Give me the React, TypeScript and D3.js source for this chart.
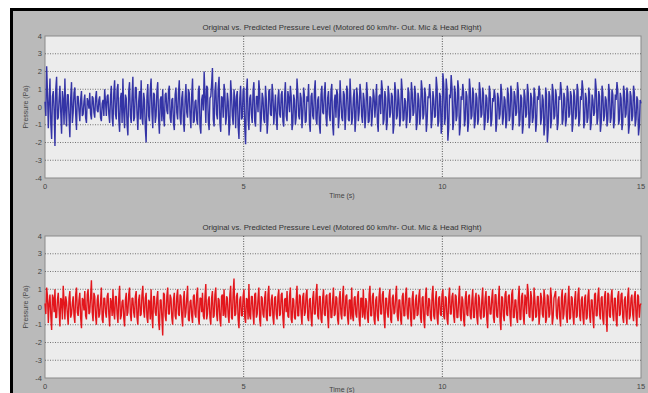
import { useEffect, useRef } from 'react';
import * as d3 from 'd3';

const TITLE = 'Original vs. Predicted Pressure Level (Motored 60 km/hr- Out. Mic & Head Right)';
const Y_TICKS = [4, 3, 2, 1, 0, -1, -2, -3, -4];
const X_TICKS = [0, 5, 10, 15];
const GRID_Y = [3, 2, 1, -1, -2, -3];
const GRID_X = [5, 10];
const DURATION = 15;

// original signal (top, blue) - even samples
const originalPaEven = [
  0.3, 2.3, -1.2, 1.6, -1.8, 0.9, -2.2, 1.7, -0.6, 1.2, -1.5, 0.4, 1.6, -1.1, 0.7, -1.7, 1.4, -0.3, 1.1, -1.3,
  0.6, -0.8, 0.9, -0.4, 0.7, -0.9, 0.3, 0.8, -0.7, 0.5, -0.6, 0.9, -0.3, 0.6, -0.8, 0.4, 1.0, -0.5, 0.7, -0.9,
  1.2, -1.1, 1.5, -0.7, 1.3, -1.4, 0.8, 1.6, -1.2, 0.5, -1.6, 1.4, -0.9, 1.7, -0.6, 1.1, -1.3, 0.9, 1.5, -1.0,
  0.4, -2.0, 1.3, -0.8, 1.6, -1.2, 0.7, -0.5, 1.4, -1.5, 0.6, 1.0, -1.1, 0.8, -0.4, 1.2, -0.9, 0.5, -1.3, 1.1,
  -0.7, 1.5, -1.0, 0.9, -1.4, 1.3, -0.6, 0.8, -1.2, 1.6, -0.8, 0.4, -1.0, 1.2, -1.5, 0.7, 2.0, -0.9, 1.1, -1.3,
  0.6, 2.2, -1.1, 1.4, -0.7, 1.7, -1.4, 0.5, 1.3, -1.0, 0.8, -1.6, 1.5, -0.5, 1.0, -1.2, 0.9, -1.8, 1.2, -0.6,
  1.1, -2.1, 1.6, -1.3, 0.7, -0.9, 1.4, -1.1, 0.6, 1.5, -1.4, 0.8, -0.7, 1.2, -1.5, 0.9, -0.4, 1.3, -1.0, 0.7,
  -1.3, 1.0, -0.6, 0.9, -1.1, 1.4, -0.8, 0.5, 1.2, -1.3, 0.7, -1.0, 1.6, -0.5, 0.8, -1.2, 1.1, -0.9, 0.6, 1.3,
  -1.4, 0.8, -0.7, 1.5, -1.0, 0.6, -1.5, 1.2, -0.4, 1.4, -1.1, 0.9, -0.8, 1.3, -1.6, 0.7, 1.0, -1.2, 1.5, -0.6,
  0.9, -1.3, 1.2, -0.7, 1.6, -1.0, 0.5, -1.4, 1.1, -0.8, 1.3, -0.5, 0.8, -1.2, 1.4, -0.9, 0.6, -1.1, 1.0, -0.6,
  1.3, -1.4, 0.7, 1.5, -1.0, 0.9, -1.3, 1.2, -0.6, 0.8, -1.5, 1.4, -0.7, 1.0, -1.1, 1.6, -0.8, 0.5, -1.2, 1.1,
  -0.9, 1.4, -0.5, 1.2, -1.3, 0.8, -1.0, 1.5, -0.7, 1.1, -1.4, 0.6, 1.3, -1.2, 0.9, -0.6, 1.7, -1.1, 0.8, -1.5,
  1.9, -1.0, 1.6, -1.9, 0.7, 1.8, -1.3, 1.2, -0.8, 1.5, -1.6, 0.6, 1.3, -1.1, 0.9, -1.4, 1.6, -0.7, 1.1, -1.2,
  0.8, -1.0, 1.4, -0.6, 1.1, -1.3, 0.7, -0.9, 1.2, -1.1, 0.5, 1.0, -1.4, 0.8, -0.7, 1.3, -1.0, 0.6, -1.2, 1.1,
  -0.8, 1.2, -1.3, 0.9, -0.5, 1.4, -1.1, 0.7, -1.5, 1.0, -0.6, 1.3, -1.2, 0.8, -0.9, 1.1, -1.4, 0.6, 1.2, -1.0,
  0.7, -1.6, 1.1, -2.0, 0.9, -1.2, 1.3, -0.7, 1.0, -1.3, 0.6, 1.4, -1.0, 0.8, -1.1, 1.2, -0.6, 0.9, -1.4, 1.0,
  -0.7, 1.3, -1.1, 0.6, 1.5, -1.2, 0.8, -0.9, 1.1, -1.3, 0.7, -0.5, 1.6, -1.0, 0.9, -1.4, 1.2, -0.8, 0.6, -1.1,
  1.3, -0.9, 1.0, -1.2, 0.7, 1.4, -1.0, 0.8, -1.3, 1.2, -0.6, 1.1, -1.5, 0.9, -0.8, 1.2, -1.1, 0.6, -1.6, 0.4,
];

// original signal (top, blue) - odd samples
const originalPaOdd = [
  -0.5, 0.8, 0.3, -0.9, 0.6, -0.2, 1.0, -0.7, 0.4, -0.3, 0.9, -1.0, -0.2, 0.7, -0.6, 0.5, -0.9, 0.8, -0.4, 0.6,
  -0.2, 0.4, -0.5, 0.3, -0.6, 0.5, -0.1, -0.4, 0.6, -0.3, 0.5, -0.2, 0.4, -0.6, 0.2, -0.5, 0.3, 0.6, -0.4, 0.5,
  -0.6, 0.8, -0.4, 1.0, -0.7, 0.5, -0.9, -0.3, 0.7, -1.0, 0.9, -0.5, 0.6, -0.8, 1.1, -0.4, 0.3, -0.7, -0.6, 0.8,
  -1.2, 0.6, -0.5, 1.0, -0.3, 0.8, -0.9, 0.9, -0.6, 0.4, -0.8, -0.5, 0.7, -0.2, 0.9, -0.6, 0.4, -0.9, 0.7, -0.3,
  0.8, -0.6, 0.5, -0.8, 0.4, -0.3, 1.0, -0.5, 0.7, -0.9, 0.3, -0.7, 0.9, -1.1, 0.4, -0.2, 0.6, 1.2, -0.8, 0.5,
  1.3, -0.7, 0.9, -0.4, 1.1, -0.9, 0.6, -0.6, 0.8, -0.5, 0.3, -0.9, 0.7, -1.0, 0.4, 0.6, -1.1, 0.5, -0.7, 0.9,
  -1.2, 0.8, -0.7, 0.5, -0.4, 0.9, -0.8, 0.6, -0.3, 0.8, -0.6, 0.5, -0.9, 0.4, -0.7, 1.0, -0.5, 0.7, -0.2, -0.6,
  0.5, -0.4, 0.7, -0.8, 0.6, -0.5, 0.9, -0.3, 0.6, -0.9, 0.4, -0.6, 0.8, -0.7, 0.5, -0.4, 0.6, -0.8, 0.3, -0.9,
  0.6, -0.5, 0.9, -0.7, 0.4, -1.0, 0.7, -0.3, 0.8, -0.6, 0.5, -0.4, 0.9, -1.0, 0.3, -0.6, 0.7, -0.5, 0.4, -0.8,
  0.7, -0.4, 0.9, -0.8, 0.5, -0.6, 1.0, -0.7, 0.6, -0.3, 0.8, -0.9, 0.4, -0.5, 0.7, -0.8, 0.5, -0.4, 0.6, 0.3,
  -0.9, 0.6, -0.4, 1.0, -0.7, 0.5, -0.8, 0.7, -0.3, 0.6, -1.0, 0.9, -0.5, 0.4, -0.6, 0.9, -0.7, 0.3, -0.5, 0.8,
  -0.6, 0.8, -0.3, 0.7, -0.9, 0.4, -0.5, 1.0, -0.4, 0.7, -0.8, 0.5, 0.6, -0.7, 0.4, -0.5, 1.1, -0.8, 0.6, -1.0,
  1.3, -0.6, 1.0, -1.2, 0.5, 1.1, -0.9, 0.8, -0.5, 1.0, -1.1, 0.4, 0.8, -0.7, 0.6, -0.9, 1.0, -0.5, 0.7, -0.8,
  0.5, -0.7, 0.9, -0.4, 0.7, -0.8, 0.5, -0.6, 0.8, -0.7, 0.3, 0.6, -0.9, 0.5, -0.4, 0.8, -0.6, 0.4, -0.8, 0.7,
  -0.5, 0.8, -0.9, 0.6, -0.3, 0.9, -0.7, 0.5, -1.0, 0.6, -0.4, 0.8, -0.8, 0.5, -0.6, 0.7, -0.9, 0.4, 0.8, -0.6,
  0.4, -1.0, 0.7, -1.3, 0.6, -0.8, 0.9, -0.5, 0.6, -0.9, 0.4, 0.9, -0.7, 0.5, -0.7, 0.8, -0.4, 0.6, -0.9, 0.6,
  -0.5, 0.9, -0.7, 0.4, 1.0, -0.8, 0.5, -0.6, 0.7, -0.9, 0.4, -0.3, 1.0, -0.6, 0.6, -0.9, 0.8, -0.5, 0.4, -0.7,
  0.8, -0.6, 0.7, -0.8, 0.4, 0.9, -0.7, 0.5, -0.9, 0.8, -0.4, 0.7, -1.0, 0.6, -0.5, 0.8, -0.7, 0.4, -1.1, 0.2,
];

// predicted signal (bottom, red) - even samples
const predictedPaEven = [
  0.2, 1.1, -0.9, 0.7, -1.3, 0.5, 1.0, -0.6, 0.8, -1.1, 0.4, 1.2, -0.7, 0.3, -1.0, 0.9, -0.4, 0.6, -0.9, 1.1,
  -0.5, 0.8, -1.2, 0.4, 0.9, -0.7, 1.0, -0.3, 1.5, -0.8, 0.6, -1.0, 0.7, -0.4, 1.1, -0.9, 0.5, -0.6, 0.8, -1.1,
  0.3, 1.0, -0.7, 0.6, -0.9, 1.2, -0.5, 0.4, -1.1, 0.8, -0.3, 1.1, -0.8, 0.5, -0.6, 0.9, -1.0, 0.7, -0.4, 1.2,
  -0.6, 0.8, -0.9, 0.3, 1.0, -1.2, 0.6, -0.5, 0.9, -1.3, 0.4, -1.6, 0.7, -0.8, 1.1, -0.4, 0.5, -1.0, 0.8, -0.7,
  1.0, -0.5, 0.6, -1.1, 0.9, -0.3, 1.2, -0.8, 0.4, -0.9, 0.7, -0.6, 1.1, -1.0, 0.5, 0.8, -0.7, 1.3, -0.4, 0.6,
  -1.0, 0.9, -0.5, 1.1, -0.8, 0.4, -1.1, 0.7, 1.0, -0.6, 0.5, -0.9, 1.2, -0.7, 1.6, -0.4, 0.8, -1.2, 0.6, -0.5,
  1.0, -0.9, 0.4, 1.3, -0.7, 0.6, -1.0, 0.8, -0.4, 1.1, -1.1, 0.5, -0.6, 0.9, -0.8, 1.2, -0.5, 0.7, -1.0, 0.6,
  -0.7, 1.0, -0.4, 0.8, -1.2, 0.5, 0.9, -0.6, 1.1, -0.9, 0.4, -0.7, 1.2, -0.5, 0.6, -1.0, 0.8, -0.3, 1.0, -0.8,
  0.5, -1.1, 0.9, -0.4, 1.3, -0.7, 0.6, -0.9, 1.0, -0.5, 0.7, -1.2, 0.8, -0.6, 1.1, -0.4, 0.5, -1.0, 0.9, -0.7,
  1.2, -0.5, 0.7, -1.0, 0.4, 1.1, -0.8, 0.6, -0.6, 0.9, -1.1, 0.5, 1.0, -0.7, 0.3, -0.9, 1.2, -0.5, 0.8, -1.0,
  0.6, -0.8, 1.1, -0.4, 0.9, -1.2, 0.5, -0.6, 1.0, -0.9, 0.7, -0.3, 1.2, -0.8, 0.4, -1.0, 0.8, -0.5, 1.1, -0.7,
  0.5, -1.1, 0.9, -0.6, 0.7, -0.4, 1.0, -0.9, 0.6, -1.2, 1.1, -0.5, 0.4, -0.8, 1.2, -0.7, 0.9, -1.0, 0.6, -0.5,
  1.0, -0.7, 0.5, -1.0, 1.1, -0.4, 0.8, -0.9, 0.6, -0.6, 1.2, -0.8, 0.4, -1.1, 0.9, -0.5, 0.7, -0.7, 1.0, -0.6,
  0.8, -1.0, 0.5, -0.7, 1.1, -0.5, 0.9, -1.2, 0.6, -0.4, 1.0, -0.9, 0.7, -0.6, 1.2, -1.3, 0.5, -0.8, 0.9, -0.5,
  0.7, -1.1, 1.0, -0.6, 0.4, -0.9, 1.2, -0.7, 0.8, -1.0, 0.5, 1.3, -0.5, 0.9, -0.8, 1.1, -0.6, 0.6, -1.0, 0.8,
  -0.4, 1.0, -0.9, 0.7, -0.6, 1.1, -1.0, 0.5, 0.9, -0.7, 0.6, -1.1, 1.0, -0.4, 0.8, -0.9, 1.2, -0.6, 0.5, -1.0,
  0.9, -0.5, 1.1, -0.8, 0.6, -1.0, 0.7, -0.6, 1.0, -0.9, 0.4, -1.2, 0.8, -0.5, 1.1, -0.7, 0.6, -1.0, 0.9, -1.4,
  0.7, -0.6, 1.0, -0.8, 0.5, -1.1, 0.9, -0.4, 0.8, -0.9, 0.6, -1.0, 1.1, -0.5, 0.7, -0.8, 0.9, -1.1, 0.6, 0.1,
];

// predicted signal (bottom, red) - odd samples
const predictedPaOdd = [
  -0.4, 0.6, 0.2, -0.5, 0.7, -0.3, -0.6, 0.4, -0.2, 0.5, -0.7, 0.3, 0.6, -0.4, 0.5, -0.6, 0.2, -0.5, 0.7, -0.3,
  0.4, -0.6, 0.5, -0.2, -0.5, 0.7, -0.4, 0.6, -0.3, 0.8, -0.5, 0.4, -0.6, 0.3, -0.7, 0.5, -0.3, 0.6, -0.4, 0.5,
  -0.5, -0.3, 0.6, -0.4, 0.5, -0.7, 0.3, -0.6, 0.4, -0.5, 0.7, -0.4, 0.5, -0.3, 0.6, -0.6, 0.4, -0.5, 0.7, -0.2,
  0.5, -0.6, 0.4, -0.7, -0.5, 0.6, -0.3, 0.5, -0.8, 0.4, -0.6, 0.8, -0.5, 0.6, -0.4, 0.7, -0.6, 0.4, -0.5, 0.6,
  -0.4, 0.7, -0.5, 0.4, -0.6, 0.5, -0.7, 0.3, -0.5, 0.6, -0.4, 0.7, -0.6, 0.5, -0.3, -0.5, 0.6, -0.7, 0.4, -0.6,
  0.5, -0.6, 0.7, -0.4, 0.5, -0.7, 0.6, -0.5, -0.4, 0.6, -0.5, 0.7, -0.6, 0.8, -0.5, 0.6, -0.7, 0.4, -0.5, 0.6,
  -0.6, 0.5, -0.7, -0.5, 0.6, -0.4, 0.7, -0.6, 0.5, -0.7, 0.6, -0.4, 0.5, -0.6, 0.7, -0.5, 0.4, -0.6, 0.5, -0.4,
  0.6, -0.5, 0.7, -0.6, 0.4, -0.3, -0.5, 0.6, -0.7, 0.5, -0.6, 0.4, -0.5, 0.7, -0.4, 0.6, -0.5, 0.7, -0.6, 0.4,
  -0.6, 0.5, -0.4, 0.7, -0.5, 0.6, -0.7, 0.5, -0.4, 0.6, -0.5, 0.7, -0.6, 0.4, -0.5, 0.6, -0.7, 0.5, -0.4, 0.6,
  -0.5, 0.6, -0.6, 0.4, -0.7, -0.5, 0.5, -0.4, 0.6, -0.7, 0.5, -0.6, -0.4, 0.5, -0.6, 0.7, -0.5, 0.6, -0.7, 0.4,
  -0.5, 0.6, -0.4, 0.7, -0.6, 0.5, -0.3, 0.6, -0.7, 0.5, -0.4, 0.6, -0.5, 0.4, -0.7, 0.6, -0.5, 0.7, -0.4, 0.5,
  -0.6, 0.5, -0.7, 0.4, -0.5, 0.6, -0.6, 0.5, -0.7, 0.6, -0.4, 0.5, -0.6, 0.7, -0.5, 0.4, -0.6, 0.5, -0.4, 0.7,
  -0.5, 0.6, -0.7, 0.5, -0.4, 0.6, -0.5, 0.7, -0.6, 0.4, -0.5, 0.6, -0.7, 0.5, -0.4, 0.6, -0.5, 0.4, -0.6, 0.5,
  -0.6, 0.7, -0.5, 0.4, -0.6, 0.5, -0.7, 0.6, -0.4, 0.5, -0.6, 0.7, -0.5, 0.4, -0.8, 0.6, -0.5, 0.7, -0.4, 0.6,
  -0.5, 0.7, -0.6, 0.4, -0.6, 0.5, -0.7, 0.6, -0.5, 0.7, -0.4, 0.8, -0.6, 0.5, -0.7, 0.4, -0.5, 0.6, -0.4, 0.5,
  -0.6, 0.5, -0.7, 0.6, -0.4, 0.5, -0.6, 0.7, -0.5, 0.4, -0.6, 0.5, -0.7, 0.6, -0.5, 0.4, -0.7, 0.6, -0.5, 0.4,
  -0.6, 0.7, -0.5, 0.4, -0.6, 0.5, -0.7, 0.6, -0.5, 0.4, -0.6, 0.7, -0.5, 0.6, -0.4, 0.5, -0.7, 0.6, -0.5, 0.8,
  -0.5, 0.6, -0.4, 0.5, -0.7, 0.6, -0.5, 0.7, -0.6, 0.4, -0.5, 0.6, -0.7, 0.5, -0.4, 0.6, -0.5, 0.7, -0.6, 0.2,
];

const originalPa = d3.merge(d3.zip(originalPaEven, originalPaOdd));
const predictedPa = d3.merge(d3.zip(predictedPaEven, predictedPaOdd));

const W = 648;
const H = 393;
const FONT = '"Liberation Sans", Arial, sans-serif';

interface PanelProps {
  values: number[];
  top: number;
  color: string;
  width: number;
}

function Panel({ values, top, color, width }: PanelProps) {
  const gRef = useRef<SVGGElement>(null);
  const left = 45;
  const right = 641;
  const plotH = 142;

  useEffect(() => {
    if (!gRef.current) return;
    const g = d3.select(gRef.current);
    g.selectAll('*').remove();

    const x = d3.scaleLinear().domain([0, DURATION]).range([left, right]);
    const y = d3.scaleLinear().domain([-4, 4]).range([top + plotH, top]);

    // title
    g.append('text')
      .attr('x', 342)
      .attr('y', top - 6)
      .attr('text-anchor', 'middle')
      .attr('font-family', FONT)
      .attr('font-size', '7.8px')
      .attr('fill', '#333')
      .text(TITLE);

    // axes background
    g.append('rect')
      .attr('x', left)
      .attr('y', top)
      .attr('width', right - left)
      .attr('height', plotH)
      .attr('fill', '#ececec')
      .attr('stroke', '#8a8a8a')
      .attr('stroke-width', 1);

    // grid
    g.selectAll('.gy')
      .data(GRID_Y)
      .enter()
      .append('line')
      .attr('x1', left)
      .attr('x2', right)
      .attr('y1', (d) => y(d))
      .attr('y2', (d) => y(d))
      .attr('stroke', '#555')
      .attr('stroke-width', 0.8)
      .attr('stroke-dasharray', '1,1.5');

    g.selectAll('.gx')
      .data(GRID_X)
      .enter()
      .append('line')
      .attr('x1', (d) => x(d))
      .attr('x2', (d) => x(d))
      .attr('y1', top)
      .attr('y2', top + plotH)
      .attr('stroke', '#444')
      .attr('stroke-width', 0.9)
      .attr('stroke-dasharray', '1,1.5');

    // signal
    const line = d3
      .line<number>()
      .x((_, i) => x((i * DURATION) / (values.length - 1)))
      .y((d) => y(d));

    g.append('path')
      .datum(values)
      .attr('fill', 'none')
      .attr('stroke', color)
      .attr('stroke-width', width)
      .attr('stroke-linejoin', 'bevel')
      .attr('d', line);

    // y ticks
    g.selectAll('.yt')
      .data(Y_TICKS)
      .enter()
      .append('text')
      .attr('x', left - 3)
      .attr('y', (d) => y(d) + 2.5)
      .attr('text-anchor', 'end')
      .attr('font-family', FONT)
      .attr('font-size', '7.5px')
      .attr('fill', '#444')
      .text((d) => String(d));

    // x ticks
    g.selectAll('.xt')
      .data(X_TICKS)
      .enter()
      .append('text')
      .attr('x', (d) => x(d))
      .attr('y', top + plotH + 11)
      .attr('text-anchor', 'middle')
      .attr('font-family', FONT)
      .attr('font-size', '7.5px')
      .attr('fill', '#444')
      .text((d) => String(d));

    // axis labels
    g.append('text')
      .attr('transform', `translate(28,${top + plotH / 2}) rotate(-90)`)
      .attr('text-anchor', 'middle')
      .attr('font-family', FONT)
      .attr('font-size', '7px')
      .attr('fill', '#444')
      .text('Pressure (Pa)');

    g.append('text')
      .attr('x', 342)
      .attr('y', Math.min(top + plotH + 20, H - 1))
      .attr('text-anchor', 'middle')
      .attr('font-family', FONT)
      .attr('font-size', '7px')
      .attr('fill', '#444')
      .text('Time (s)');
  }, [values, top, color, width]);

  return <g ref={gRef} />;
}

export default function App() {
  return (
    <div style={{ position: 'absolute', left: 0, top: 0 }}>
      <svg width={W} height={H} style={{ display: 'block' }}>
        <rect x={0} y={0} width={W} height={H} fill="#fff" />
        <rect x={10} y={8} width={W - 10} height={H - 8} fill="#000" />
        <rect x={13} y={11} width={W - 13} height={H - 11} fill="#bababa" />
        <Panel values={originalPa} top={36} color="#3434a6" width={1.4} />
        <Panel values={predictedPa} top={236} color="#e3161c" width={1.4} />
      </svg>
    </div>
  );
}
